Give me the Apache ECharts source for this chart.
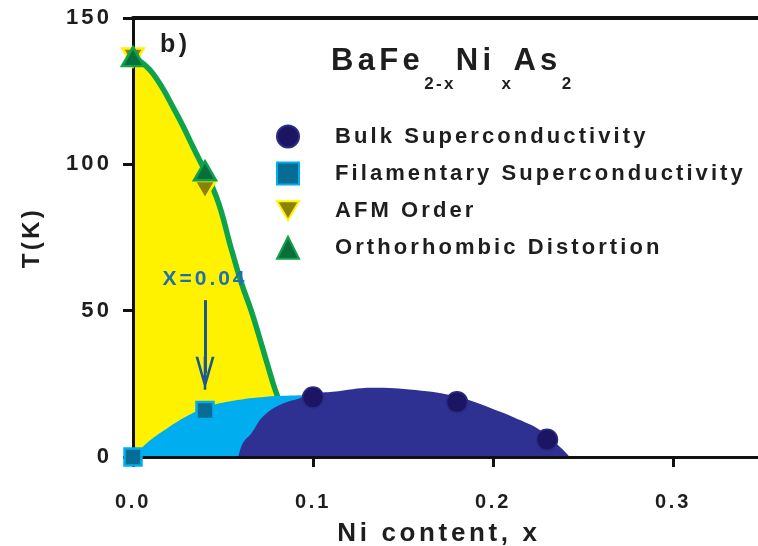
<!DOCTYPE html>
<html>
<head>
<meta charset="utf-8">
<title>BaFe2-xNixAs2 phase diagram</title>
<script src="https://cdn.jsdelivr.net/npm/echarts@6/dist/echarts.min.js"></script>
<style>
  html, body { margin: 0; padding: 0; background: #ffffff; }
  #chart { width: 758px; height: 546px; }
</style>
</head>
<body>
<div id="chart"></div>
<script>
// ---- measured points (x = Ni content, T in K) ----
const bulkX = [0.10, 0.18, 0.23];
const bulkT = [20.3, 18.7, 5.9];
const filX = [0.0, 0.04];
const filT = [0.0, 15.9];
const afmX = [0.0, 0.04];
const afmT = [136.5, 91.2];
const orthoX = [0.0, 0.04];
const orthoT = [136.8, 97.8];

// ---- phase boundaries traced for the shaded regions ----
const structLineX = [0.0, 0.0111, 0.0241, 0.0333, 0.0463, 0.0548, 0.0603, 0.0659, 0.0723, 0.0778, 0.081];
const structLineT = [137.0, 131.0, 117.4, 106.0, 88.9, 70.7, 59.3, 49.6, 36.6, 25.2, 19.5];
const filEdgeX = [0.0, 0.0093, 0.0185, 0.0296, 0.0407, 0.0556, 0.074, 0.0926, 0.098];
const filEdgeT = [0.0, 5.6, 9.6, 13.8, 17.0, 19.2, 20.6, 21.1, 21.2];
const domeX = [0.0585, 0.061, 0.0658, 0.0722, 0.0815, 0.0926, 0.10, 0.111, 0.133, 0.157, 0.18, 0.204, 0.215, 0.226, 0.238, 0.2426];
const domeT = [0.0, 4.7, 8.1, 13.8, 17.8, 20.1, 21.6, 22.3, 23.7, 22.9, 20.6, 15.5, 12.6, 9.2, 3.0, 0.0];

// ---- arrow marking the x = 0.04 sample ----
const arrowX = 0.04;
const arrowFromT = 53.6;
const arrowToT = 28.6;

// ---- axes ----
const xTicks = [0.0, 0.1, 0.2, 0.3];
const yTicks = [0, 50, 100, 150];
const xMin = 0, xMax = 0.35, xStep = 0.1;
const yMin = 0, yMax = 150, yStep = 50;

const FONT = '"Liberation Sans", Arial, Helvetica, sans-serif';
const TRACKING = 0.14; // extra space between letters, in em

// Wide tracking for all canvas text (measured and drawn alike)
(function () {
  const proto = CanvasRenderingContext2D.prototype;
  const d = Object.getOwnPropertyDescriptor(proto, 'font');
  if (!d || !('letterSpacing' in proto)) return;
  Object.defineProperty(proto, 'font', {
    configurable: true,
    enumerable: d.enumerable,
    get() { return d.get.call(this); },
    set(v) {
      d.set.call(this, v);
      const m = /(\d+(?:\.\d+)?)px/.exec(v);
      this.letterSpacing = m ? (parseFloat(m[1]) * TRACKING).toFixed(2) + 'px' : '0px';
    }
  });
})();

const pairs = (xs, ys) => xs.map((x, i) => [x, ys[i]]);

const TEXT = '#1e1e1e';
const AXIS = '#111111';
const YELLOW = '#fff200';
const GREEN = '#0fa24c';
const CYAN = '#00aeef';
const NAVY = '#2e3192';

const invTriangle = 'path://M0,0 L20,0 L10,17 Z';
const arrowHead = 'path://M0,33 L9.5,0 L19,33 L16.2,33 L9.5,9 L2.8,33 Z M8.2,0 L10.8,0 L10.8,33 L8.2,33 Z';

const chart = echarts.init(document.getElementById('chart'), null, { renderer: 'canvas' });

chart.setOption({
  animation: false,
  backgroundColor: '#ffffff',
  grid: { left: 133, top: 18, width: 630, height: 439, containLabel: false, outerBoundsMode: 'none' },
  xAxis: [
    {
      type: 'value', min: xMin, max: xMax, interval: xStep, z: 5,
      name: 'Ni content, x', nameLocation: 'middle', nameGap: 43,
      nameTextStyle: { fontFamily: FONT, fontWeight: 'bold', fontSize: 26, color: TEXT, padding: [0, 18, 0, 0] },
      axisLine: { show: true, lineStyle: { color: AXIS, width: 3 } },
      axisTick: { show: true, inside: false, length: 10, lineStyle: { color: AXIS, width: 3 },
        customValues: xTicks },
      axisLabel: { margin: 34, fontFamily: FONT, fontWeight: 'bold', fontSize: 20, color: TEXT,
        customValues: xTicks, formatter: v => v.toFixed(1) },
      splitLine: { show: false }
    },
    {
      type: 'value', position: 'top', min: xMin, max: xMax, interval: xStep, z: 5,
      axisLine: { show: true, lineStyle: { color: AXIS, width: 4 } },
      axisTick: { show: false }, axisLabel: { show: false }, splitLine: { show: false }
    }
  ],
  yAxis: {
    type: 'value', min: yMin, max: yMax, interval: yStep, z: 5,
    name: 'T(K)', nameLocation: 'middle', nameGap: 87, nameRotate: 90,
    nameTextStyle: { fontFamily: FONT, fontWeight: 'bold', fontSize: 24, color: TEXT },
    axisLine: { show: true, lineStyle: { color: AXIS, width: 3 } },
    axisTick: { show: true, inside: false, length: 10, lineStyle: { color: AXIS, width: 3 },
      customValues: yTicks },
    axisLabel: { margin: 21, fontFamily: FONT, fontWeight: 'bold', fontSize: 22, color: TEXT,
      customValues: yTicks },
    splitLine: { show: false }
  },
  legend: {
    orient: 'vertical', left: 271, top: 119, padding: 5,
    itemWidth: 22, itemHeight: 22, itemGap: 12,
    textStyle: { fontFamily: FONT, fontWeight: 'bold', fontSize: 22, color: TEXT, padding: [0, 0, 0, 31] },
    data: ['Bulk Superconductivity', 'Filamentary Superconductivity', 'AFM Order', 'Orthorhombic Distortion']
  },
  graphic: [
    {
      type: 'text', left: 160, top: 31, z: 20,
      style: { text: 'b)', font: 'bold 25px ' + FONT, fill: TEXT }
    },
    {
      type: 'text', left: 331, top: 44, z: 20,
      style: {
        text: '{m|BaFe}{s|2-x}{m|Ni}{t|x}{m|As}{s|2}',
        fill: TEXT,
        rich: {
          m: { fontFamily: FONT, fontWeight: 'bold', fontSize: 31, lineHeight: 31, verticalAlign: 'top', fill: TEXT },
          s: { fontFamily: FONT, fontWeight: 'bold', fontSize: 17, lineHeight: 17, verticalAlign: 'top', padding: [31, 0, 0, 0], fill: TEXT },
          t: { fontFamily: FONT, fontWeight: 'bold', fontSize: 17, lineHeight: 17, verticalAlign: 'top', padding: [31, 0, 0, 6], fill: TEXT }
        }
      }
    }
  ],
  series: [
    {
      name: 'structural boundary', type: 'line', z: 2,
      data: pairs(structLineX, structLineT),
      smooth: 0.4, showSymbol: false, silent: true,
      lineStyle: { color: GREEN, width: 5.5 },
      areaStyle: { color: YELLOW, opacity: 1 }
    },
    {
      name: 'filamentary region', type: 'line', z: 3,
      data: pairs(filEdgeX, filEdgeT),
      smooth: 0.4, showSymbol: false, silent: true,
      lineStyle: { width: 0, opacity: 0 },
      areaStyle: { color: CYAN, opacity: 1 }
    },
    {
      name: 'bulk dome', type: 'line', z: 4,
      data: pairs(domeX, domeT),
      smooth: 0.4, showSymbol: false, silent: true,
      lineStyle: { width: 0, opacity: 0 },
      areaStyle: { color: NAVY, opacity: 1 }
    },
    {
      name: 'Bulk Superconductivity', type: 'scatter', z: 10,
      data: pairs(bulkX, bulkT),
      symbol: 'circle', symbolSize: 21,
      itemStyle: { color: '#1b1563', borderColor: '#2a2c84', borderWidth: 1.5, opacity: 1 }
    },
    {
      name: 'Filamentary Superconductivity', type: 'scatter', z: 10,
      data: pairs(filX, filT),
      symbol: 'rect', symbolSize: 17,
      itemStyle: { color: '#066c94', borderColor: CYAN, borderWidth: 2.5, opacity: 1 },
      markLine: {
        silent: true,
        symbol: ['none', arrowHead], symbolSize: [19, 33],
        lineStyle: { color: '#1a5b8c', width: 3, type: 'solid' },
        label: {
          show: true, position: 'start', distance: 9,
          formatter: () => 'X=' + arrowX.toFixed(2),
          fontFamily: FONT, fontWeight: 'bold', fontSize: 21, color: '#1f6fae'
        },
        data: [[{ coord: [arrowX, arrowFromT] }, { coord: [arrowX, arrowToT] }]]
      }
    },
    {
      name: 'AFM Order', type: 'scatter', z: 10,
      data: pairs(afmX, afmT),
      symbol: invTriangle, symbolSize: [21, 18],
      itemStyle: { color: '#8a8204', borderColor: YELLOW, borderWidth: 2.5, opacity: 1 }
    },
    {
      name: 'Orthorhombic Distortion', type: 'scatter', z: 10,
      data: pairs(orthoX, orthoT),
      symbol: 'triangle', symbolSize: [22, 19],
      itemStyle: { color: '#06703a', borderColor: '#11a04c', borderWidth: 2.5, opacity: 1 }
    }
  ]
});
</script>
</body>
</html>
